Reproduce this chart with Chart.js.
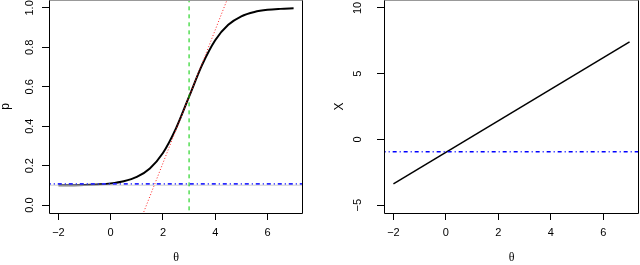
<!DOCTYPE html>
<html>
<head>
<meta charset="utf-8">
<script src="https://cdn.jsdelivr.net/npm/chart.js@4/dist/chart.umd.min.js"></script>
<style>
  html, body { margin: 0; padding: 0; background: #fff; overflow: hidden; }
  #wrap { position: relative; width: 640px; height: 265px; }
  canvas { position: absolute; top: 0; }
  #left { left: 0; }
  #right { left: 320px; }
</style>
</head>
<body>
<div id="wrap">
  <canvas id="left" width="320" height="265"></canvas>
  <canvas id="right" width="320" height="265"></canvas>
</div>
<script>
// left panel: item characteristic curve p(theta)
const thetaGrid = [-2, -1.5, -1, -0.5, 0, 0.5, 1, 1.5, 2, 2.5, 3, 3.5, 4, 4.5, 5, 5.5, 6, 6.5, 7];
const pValues   = [0.1005, 0.101, 0.102, 0.105, 0.110, 0.121, 0.143, 0.186, 0.264, 0.389, 0.55,
                   0.711, 0.836, 0.914, 0.957, 0.979, 0.990, 0.995, 0.998];
const tangentTheta = [1.1, 4.7];
const tangentP     = [-0.091, 1.124];
const bLocation  = 3;        // green dashed vertical
const guessLevel = 0.108;    // blue dash-dot horizontal
const lowerAsym  = 0.101;    // faint grey line under it
const pTicks     = [0, 0.2, 0.4, 0.6, 0.8, 1.0];

// right panel: linear predictor X(theta)
const lineTheta = [-2, 7];
const lineX     = [-3.38, 7.42];
const xLevel    = -0.95;
const xTicks    = [-5, 0, 5, 10];

const thetaTicks = [-2, 0, 2, 4, 6];
const thetaRange = [-2, 7];

const FONT = "'Liberation Sans', Arial, Helvetica, sans-serif";
const minus = v => String(v).replace('-', '\u2212');

// R style: extend range by 4%
function rRange(lo, hi) {
  const d = (hi - lo) * 0.04;
  return [lo - d, hi + d];
}

function pts(xs, ys) {
  return xs.map((x, i) => ({ x, y: ys[i] }));
}

const boxPlugin = {
  id: 'box',
  afterDraw(chart) {
    const a = chart.chartArea;
    const ctx = chart.ctx;
    const l = Math.round(a.left) + 0.5;
    const r = Math.min(Math.round(a.right), chart.width - 1) - 0.5;
    const b = Math.round(a.bottom) + 0.5;
    ctx.save();
    ctx.lineWidth = 1;
    ctx.strokeStyle = '#000';
    ctx.beginPath();
    ctx.moveTo(l, 0); ctx.lineTo(l, b); ctx.lineTo(r, b); ctx.lineTo(r, 0);
    ctx.stroke();
    // top edge sits right at the picture's edge
    ctx.strokeStyle = '#999';
    ctx.beginPath();
    ctx.moveTo(l, 0.5); ctx.lineTo(r, 0.5);
    ctx.stroke();
    ctx.restore();
  }
};

function makeChart(id, datasets, yRange, yTicks, yFmt, yTitle, yWidth, yPad, yTitlePad, rightPad) {
  const xr = rRange(thetaRange[0], thetaRange[1]);
  return new Chart(document.getElementById(id), {
    type: 'scatter',
    data: { datasets },
    plugins: [boxPlugin],
    options: {
      responsive: false,
      animation: false,
      layout: { padding: { top: 0, right: rightPad, left: 0, bottom: 0 } },
      plugins: { legend: { display: false }, tooltip: { enabled: false } },
      elements: { point: { radius: 0 } },
      scales: {
        x: {
          type: 'linear',
          min: xr[0], max: xr[1],
          afterBuildTicks: s => { s.ticks = thetaTicks.map(v => ({ value: v })); },
          afterFit: s => { s.height = 52; s.paddingLeft = 0; s.paddingRight = 0; },
          border: { display: false },
          grid: { drawOnChartArea: false, drawTicks: true, tickLength: 7, color: '#000', lineWidth: 1 },
          ticks: { color: '#000', font: { family: FONT, size: 11 }, padding: 6, maxRotation: 0, callback: v => minus(v) },
          title: { display: true, text: '\u03b8', color: '#000', font: { family: "'Liberation Serif', serif", size: 12, lineHeight: 1 }, padding: { top: 0, bottom: 1 } }
        },
        y: {
          type: 'linear',
          min: yRange[0], max: yRange[1],
          afterBuildTicks: s => { s.ticks = yTicks.map(v => ({ value: v })); },
          afterFit: s => { s.width = yWidth; s.paddingTop = 0; s.paddingBottom = 0; },
          border: { display: false },
          grid: { drawOnChartArea: false, drawTicks: true, tickLength: 7, color: '#000', lineWidth: 1 },
          ticks: { color: '#000', font: { family: FONT, size: 11 }, padding: yPad, minRotation: 90, maxRotation: 90, crossAlign: 'center', callback: yFmt },
          title: { display: true, text: yTitle, color: '#000', font: { family: FONT, size: 12, lineHeight: 1 }, padding: { top: yTitlePad, bottom: 0 } }
        }
      }
    }
  });
}

const xr = rRange(thetaRange[0] - 1, thetaRange[1] + 1);

// first dataset is drawn on top
makeChart('left', [
  { data: pts([xr[0], xr[1]], [guessLevel, guessLevel]), showLine: true, borderColor: '#2a2aff', borderWidth: 1.8, borderDash: [1, 3, 4, 3] },
  { data: pts([bLocation, bLocation], [-1, 2]), showLine: true, borderColor: '#00cd00', borderWidth: 1, borderDash: [4, 4] },
  { data: pts(tangentTheta, tangentP), showLine: true, borderColor: '#ff2020', borderWidth: 1, borderDash: [1, 2] },
  { data: pts([xr[0], xr[1]], [lowerAsym, lowerAsym]), showLine: true, borderColor: '#cfcfcf', borderWidth: 1 },
  { data: pts(thetaGrid, pValues), showLine: true, borderColor: '#000', borderWidth: 2, cubicInterpolationMode: 'monotone' }
], rRange(0, 1), pTicks, v => v.toFixed(1), 'p', 49, 4.5, 0, 17);

makeChart('right', [
  { data: pts([xr[0], xr[1]], [xLevel, xLevel]), showLine: true, borderColor: '#0000ff', borderWidth: 1.5, borderDash: [1, 3, 4, 3] },
  { data: pts(lineTheta, lineX), showLine: true, borderColor: '#000', borderWidth: 1.5 }
], rRange(-5, 10), xTicks, v => minus(v), 'X', 64, 13, 13.5, 1);
</script>
</body>
</html>
